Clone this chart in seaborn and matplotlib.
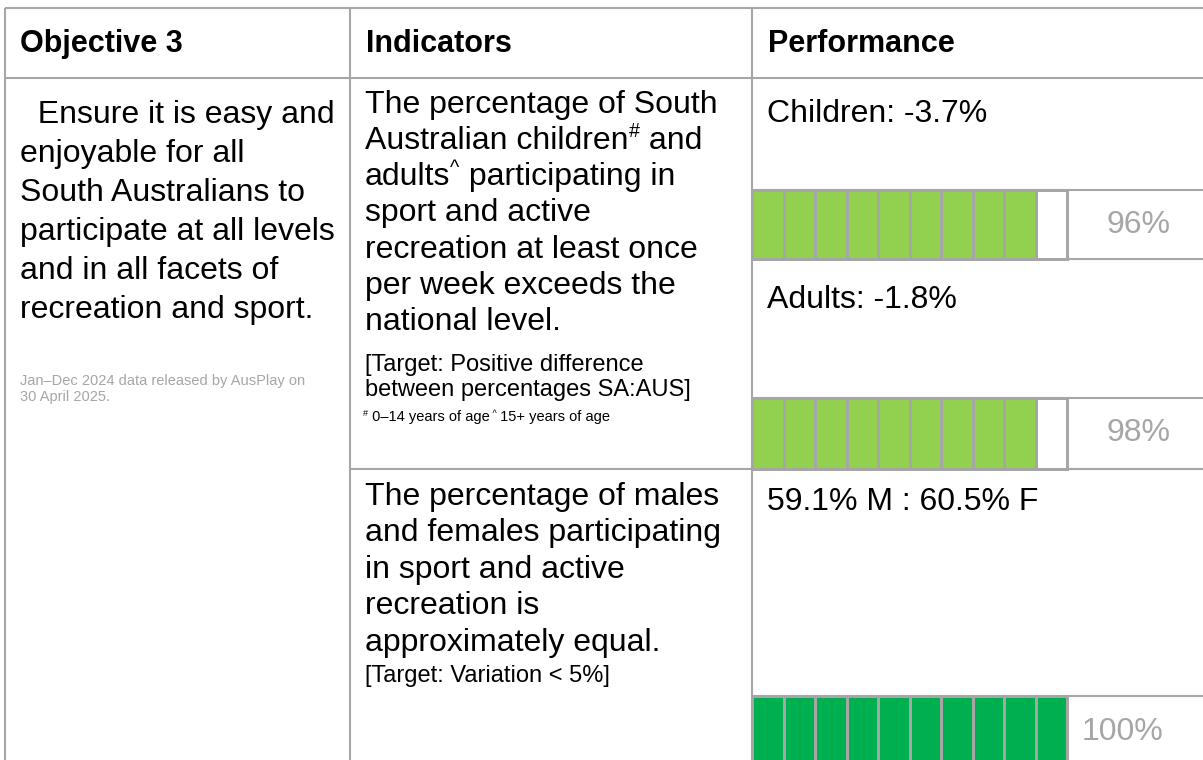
import re
import numpy as np
import matplotlib.pyplot as plt
from matplotlib.colors import ListedColormap
import seaborn as sns

# Table content
headers = ['Objective 3', 'Indicators', 'Performance']
objective_lines = ['  Ensure it is easy and', 'enjoyable for all', 'South Australians to',
                   'participate at all levels', 'and in all facets of', 'recreation and sport.']
source_note = ['Jan–Dec 2024 data released by AusPlay on', '30 April 2025.']
indicator1_lines = ['The percentage of South', 'Australian children{#} and',
                    'adults{^} participating in', 'sport and active',
                    'recreation at least once', 'per week exceeds the', 'national level.']
target1_lines = ['[Target: Positive difference', 'between percentages SA:AUS]']
age_note = '{#} 0–14 years of age{ ^} 15+ years of age'
indicator2_lines = ['The percentage of males', 'and females participating',
                    'in sport and active', 'recreation is', 'approximately equal.']
target2 = '[Target: Variation < 5%]'

# Performance values
groups = ['Children', 'Adults']
diff_pct = [-3.7, -1.8]
male_pct = 59.1
female_pct = 60.5
score_pct = [96, 98, 100]
score_colors = ['#92D050', '#92D050', '#00B050']
n_cells = 10

W, H = 1203, 760
GRID = '#A6A6A6'
LW = 1.5

sns.set_theme(style='white')
plt.rcParams['font.family'] = ['Liberation Sans', 'DejaVu Sans']

fig = plt.figure(figsize=(W / 100, H / 100), dpi=100)
ax = fig.add_axes([0, 0, 1, 1])
ax.set_xlim(0, W)
ax.set_ylim(H, 0)
ax.axis('off')
renderer = fig.canvas.get_renderer()

PX = 100 / 72


def rich(x, yc, s, size, color='black', weight='normal', ha='left'):
    # draw text with {..} parts as superscripts, yc is visual centre
    base = yc + 0.3 * size * PX
    parts = re.split(r'\{(.*?)\}', s)
    for i, part in enumerate(parts):
        if not part:
            continue
        sup = i % 2 == 1
        fs = size * 0.62 if sup else size
        yy = base - 0.36 * size * PX if sup else base
        t = ax.text(x, yy, part, fontsize=fs, color=color, weight=weight,
                    va='baseline', ha=ha)
        x = t.get_window_extent(renderer).x1


# grid lines
ax.hlines([8, 78], 5, W, color=GRID, lw=LW)
ax.hlines(469, 350, W, color=GRID, lw=LW)
ax.vlines([5, 350, 752], 8, H, color=GRID, lw=LW)

# headers
for x, h in zip([20, 366, 768], headers):
    rich(x, 43, h, 22, weight='bold')

BODY = 23
for i, line in enumerate(objective_lines):
    rich(20, 113 + i * 39, line, BODY)
for i, line in enumerate(source_note):
    rich(20, 381 + i * 15.5, line, 10.5, color='#A6A6A6')

for i, line in enumerate(indicator1_lines):
    rich(365, 103 + i * 36.3, line, BODY)
for i, line in enumerate(target1_lines):
    rich(365, 364 + i * 25, line, 17)
rich(363, 417, age_note, 10.5)

for i, line in enumerate(indicator2_lines):
    rich(365, 495 + i * 36.5, line, BODY)
rich(365, 675, target2, 17)

# performance labels
for g, d, yc in zip(groups, diff_pct, [112, 298]):
    rich(767, yc, f'{g}: {d}%', BODY)
rich(767, 500, f'{male_pct}% M : {female_pct}% F', BODY)

# segmented bars
bar_rows = [(190, 259), (398, 469), (696, 775)]
bar_x0, bar_x1 = 752, 1067
pct_pos = [(1139, 225), (1139, 433), (1122, 732)]
for pct, col, (y0, y1), (px, py) in zip(score_pct, score_colors, bar_rows, pct_pos):
    filled = pct // 10
    cells = np.array([[1] * filled + [0] * (n_cells - filled)])
    bax = fig.add_axes([bar_x0 / W, 1 - y1 / H, (bar_x1 - bar_x0) / W, (y1 - y0) / H])
    sns.heatmap(cells, ax=bax, cmap=ListedColormap(['white', col]), vmin=0, vmax=1,
                cbar=False, linewidths=2, linecolor=GRID,
                xticklabels=False, yticklabels=False)
    bax.collections[0].set_clip_on(False)
    ax.hlines(y0, bar_x0, W, color=GRID, lw=LW)
    if y1 < H:
        ax.hlines(y1, bar_x0, W, color=GRID, lw=LW)
    ax.text(px, py, f'{pct}%', fontsize=BODY, color='#A6A6A6', ha='center', va='center')

fig.savefig('out.png', dpi=100)
